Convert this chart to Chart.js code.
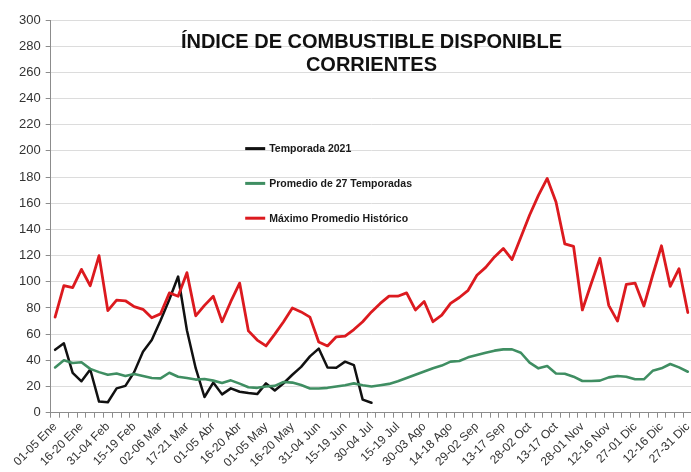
<!DOCTYPE html>
<html><head><meta charset="utf-8">
<script src="https://cdn.jsdelivr.net/npm/chart.js@4.4.1/dist/chart.umd.min.js"></script>
<style>
html,body{margin:0;padding:0;background:#fff;overflow:hidden;width:691px;height:472px}
#wrap{position:absolute;left:0;top:0;width:700px;height:472px}
</style>
</head><body><div id="wrap"><canvas id="c" width="700" height="472"></canvas></div>
<script>
// Pentads of the year (73 categories); every third one is labelled
const categories = [
 '01-05 Ene','06-10 Ene','11-15 Ene','16-20 Ene','21-25 Ene','26-30 Ene','31-04 Feb',
 '05-09 Feb','10-14 Feb','15-19 Feb','20-24 Feb','25-01 Mar',
 '02-06 Mar','07-11 Mar','12-16 Mar','17-21 Mar','22-26 Mar','27-31 Mar',
 '01-05 Abr','06-10 Abr','11-15 Abr','16-20 Abr','21-25 Abr','26-30 Abr',
 '01-05 May','06-10 May','11-15 May','16-20 May','21-25 May','26-30 May','31-04 Jun',
 '05-09 Jun','10-14 Jun','15-19 Jun','20-24 Jun','25-29 Jun','30-04 Jul',
 '05-09 Jul','10-14 Jul','15-19 Jul','20-24 Jul','25-29 Jul','30-03 Ago',
 '04-08 Ago','09-13 Ago','14-18 Ago','19-23 Ago','24-28 Ago','29-02 Sep',
 '03-07 Sep','08-12 Sep','13-17 Sep','18-22 Sep','23-27 Sep','28-02 Oct',
 '03-07 Oct','08-12 Oct','13-17 Oct','18-22 Oct','23-27 Oct','28-01 Nov',
 '02-06 Nov','07-11 Nov','12-16 Nov','17-21 Nov','22-26 Nov','27-01 Dic',
 '02-06 Dic','07-11 Dic','12-16 Dic','17-21 Dic','22-26 Dic','27-31 Dic'
];
const labelEvery = 3;

const seriesNames = ['Temporada 2021', 'Promedio de 27 Temporadas', 'Máximo Promedio Histórico'];

const temporada2021 = [48,53,30.5,24,33,8.5,8,18.6,20.5,31,46.6,55.5,70.5,86.5,104,63,34,12,23,14,
  18.6,16,15,14.2,22.4,17,22.5,29,35,43,49,34.6,34.4,39,36.4,10,7.6];

const promedio27 = [34.6,40,38,38.5,33.5,31,29,30,28,29.5,28,26.5,26.2,30.5,27.5,26.5,25.3,25.8,24.5,22.7,
  24.7,22.2,19.5,19,20,20.5,23.5,23,21.1,18.5,18.5,19,20,21,22.4,21,20,21,22,24,
  26.5,29,31.5,34,36,39,39.5,42.3,44,45.8,47.4,48.4,48.4,45.8,38.2,33.9,35.6,30,29.8,27.5,
  24.2,24.2,24.5,27,28,27.5,25.5,25.5,32,33.9,37.2,34.6,31.3];

const maximoHistorico = [73,97,95.5,109.5,97,120,78,86,85.5,81,79,72.5,75.5,91.5,89,107,74,82,89,69.5,
  85,99,62.5,55.5,51,60,69.5,80,77,73,54,51,58,58.5,63.5,69.5,77,83.5,89,89,
  91.5,78.5,85,69.5,74.5,83.5,88,93.5,105,111,119,125.5,117,134,151,166,179,161,129,127,
  78.5,98.5,118,82,70,98,99,81.5,105,127.5,96.5,110,76.5];

const yMin = 0, yMax = 300, yStep = 20;
const titleLines = ['ÍNDICE DE COMBUSTIBLE DISPONIBLE', 'CORRIENTES'];

const colors = { black: '#111111', green: '#3f8e62', red: '#dc1a1f' };

const overlayPlugin = {
  id: 'overlay',
  afterDraw(chart) {
    const { ctx, chartArea: a } = chart;
    ctx.save();
    // Title
    ctx.fillStyle = '#111';
    ctx.font = 'bold 20px "Liberation Sans", Arial, sans-serif';
    ctx.textAlign = 'center';
    ctx.textBaseline = 'alphabetic';
    const cx = (a.left + a.right) / 2;
    ctx.fillText(titleLines[0], cx, a.top + 27.6);
    ctx.fillText(titleLines[1], cx, a.top + 50.6);
    // Legend
    const items = [
      [seriesNames[0], colors.black],
      [seriesNames[1], colors.green],
      [seriesNames[2], colors.red]
    ];
    const lx = a.left + 194.5;
    ctx.font = 'bold 10.5px "Liberation Sans", Arial, sans-serif';
    ctx.textAlign = 'left';
    ctx.textBaseline = 'middle';
    items.forEach((it, i) => {
      const y = a.top + 128.6 + i * 34.8;
      ctx.strokeStyle = it[1];
      ctx.lineWidth = 3;
      ctx.beginPath();
      ctx.moveTo(lx, y);
      ctx.lineTo(lx + 20, y);
      ctx.stroke();
      ctx.fillStyle = '#1a1a1a';
      ctx.fillText(it[0], lx + 24, y + 0.5);
    });
    ctx.restore();
  }
};

new Chart(document.getElementById('c'), {
  type: 'line',
  data: {
    labels: categories,
    datasets: [
      { label: seriesNames[0], data: temporada2021, borderColor: colors.black, borderWidth: 2.5, order: 2 },
      { label: seriesNames[1], data: promedio27, borderColor: colors.green, borderWidth: 2.6, order: 1 },
      { label: seriesNames[2], data: maximoHistorico, borderColor: colors.red, borderWidth: 2.8, order: 0 }
    ]
  },
  options: {
    responsive: false,
    animation: false,
    devicePixelRatio: 1,
    elements: { point: { radius: 0 }, line: { tension: 0, borderJoinStyle: 'round', borderCapStyle: 'round' } },
    layout: { padding: { top: 20, right: 0, bottom: 0, left: 0 } },
    plugins: { legend: { display: false }, title: { display: false }, tooltip: { enabled: false } },
    scales: {
      x: {
        type: 'category',
        offset: true,
        grid: { display: true, offset: true, drawOnChartArea: false, drawTicks: true, tickLength: 5, tickColor: '#8c8c8c' },
        border: { display: true, color: '#8c8c8c', width: 1 },
        ticks: {
          autoSkip: false, maxRotation: 45, minRotation: 45, padding: 2,
          color: '#333', font: { family: '"Liberation Sans", Arial, sans-serif', size: 12 },
          callback: function (v, i) { return i % labelEvery === 0 ? categories[i] : ''; }
        },
        afterFit(scale) { scale.height = 59.3; }
      },
      y: {
        min: yMin, max: yMax,
        grid: { color: '#dcdcdc', lineWidth: 1, drawTicks: true, tickLength: 5, tickColor: '#8c8c8c' },
        border: { display: true, color: '#8c8c8c', width: 1 },
        ticks: {
          stepSize: yStep, padding: 5, color: '#333',
          font: { family: '"Liberation Sans", Arial, sans-serif', size: 13 }
        },
        afterFit(scale) { scale.width = 50.7; }
      }
    }
  },
  plugins: [overlayPlugin]
});
</script>
</body></html>
